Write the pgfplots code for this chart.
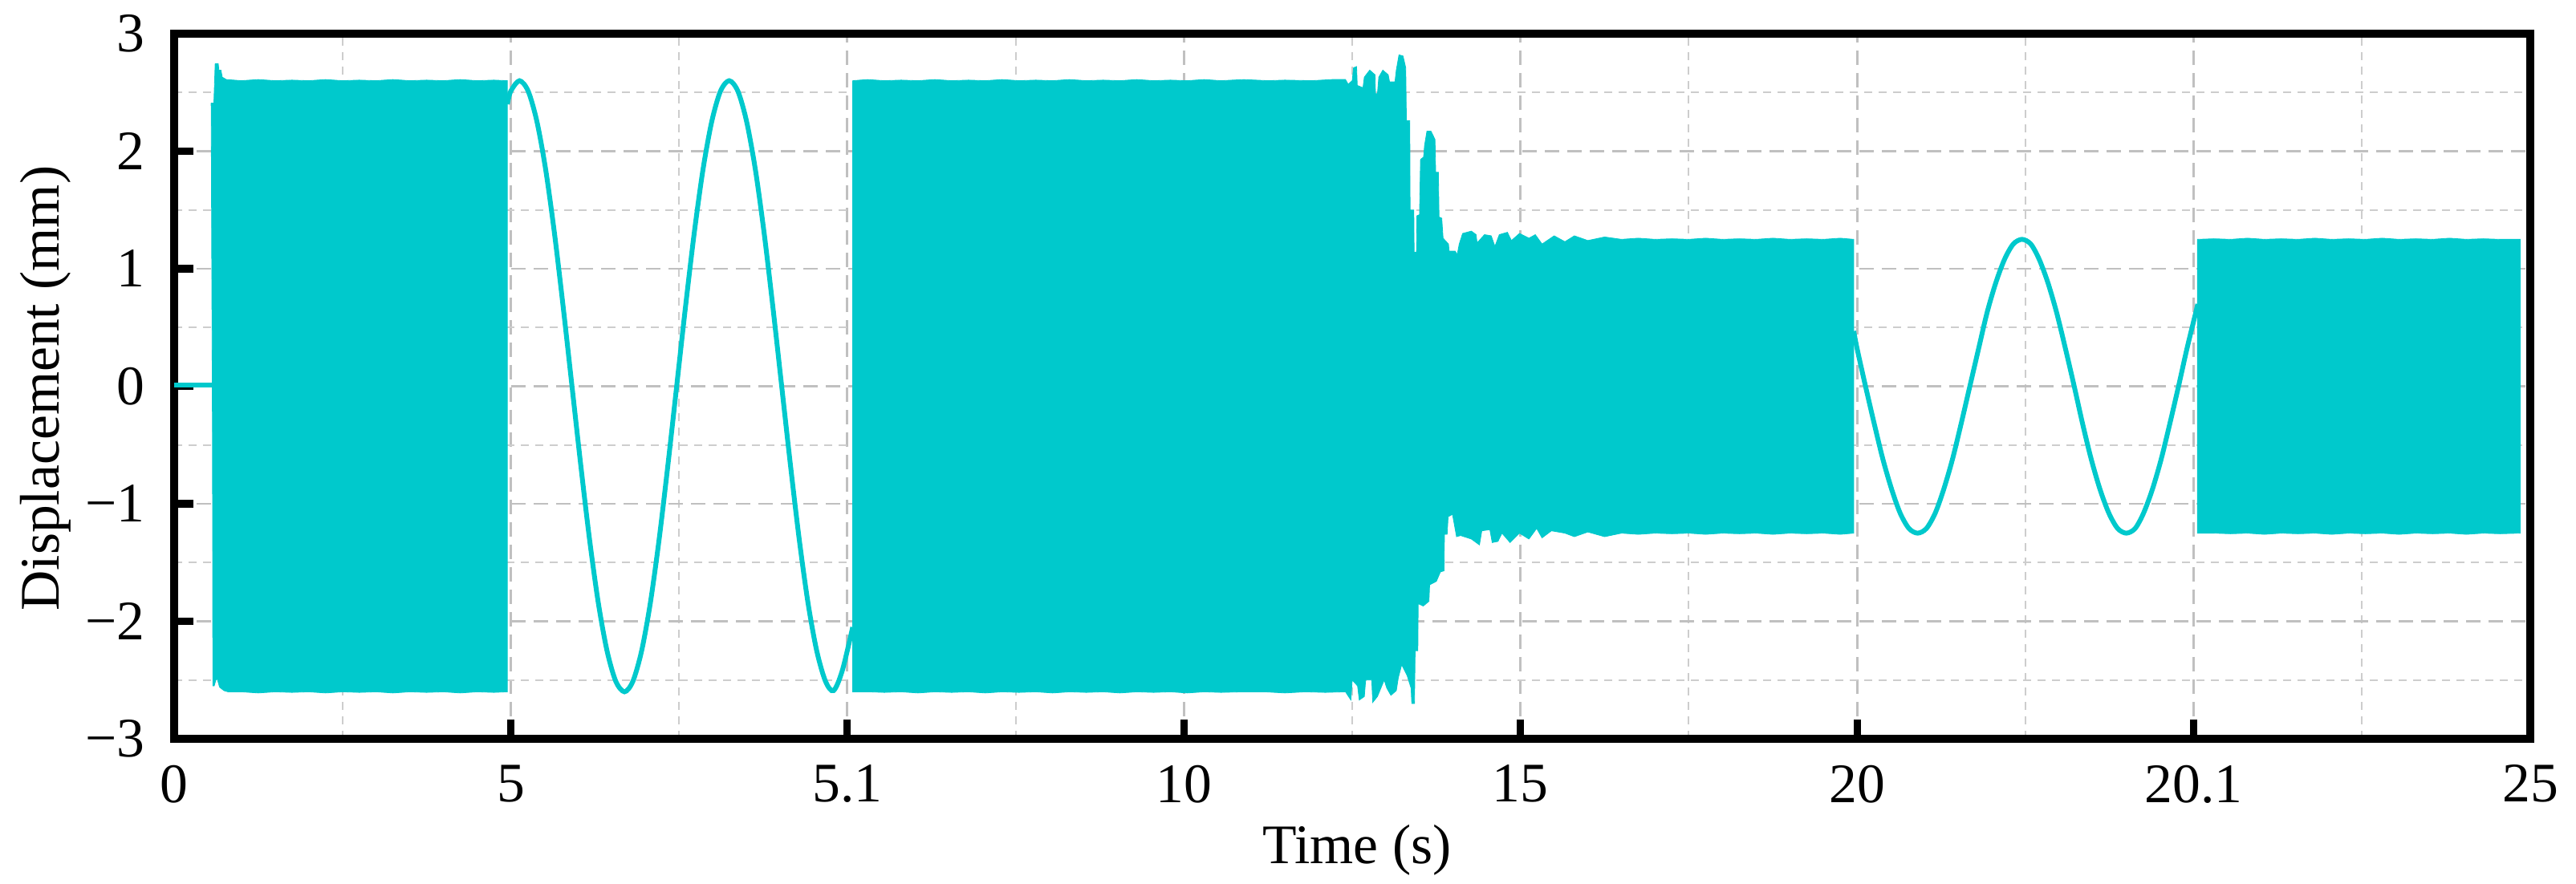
\documentclass[border=0pt]{standalone}
\usepackage{pgfplots}
\pgfplotsset{compat=1.18}
\usepackage{fontspec}
\setmainfont{Liberation Serif}
\definecolor{cy}{RGB}{0,201,204}
\definecolor{gmaj}{RGB}{192,192,192}
\definecolor{gmin}{RGB}{205,205,205}
\begin{document}
\begin{tikzpicture}
\useasboundingbox (-54.25pt,-45.25pt) rectangle (748.25pt,230.25pt);
\begin{axis}[
  scale only axis, width=734pt, height=219.75pt,
  xmin=0, xmax=7, ymin=-3, ymax=3,
  xtick={0,1,2,3,4,5,6,7},
  xticklabels={0,5,5.1,10,15,20,20.1,25},
  ytick={-3,-2,-1,0,1,2,3},
  yticklabels={−3,−2,−1,0,1,2,3},
  minor xtick={0.5,1.5,2.5,3.5,4.5,5.5,6.5},
  minor ytick={-2.5,-1.5,-0.5,0.5,1.5,2.5},
  minor tick length=0pt,
  major tick length=6pt,
  tick align=inside,
  tick pos=left,
  tick style={black,line width=2.3pt},
  axis line style={black,line width=2.4pt},
  grid=both,
  major grid style={gmaj,line width=0.7pt,dash pattern=on 4.5pt off 2.5pt},
  minor grid style={gmin,line width=0.5pt,dash pattern=on 2.5pt off 2pt},
  font=\fontsize{17.4pt}{20pt}\selectfont,
  xticklabel style={inner sep=0pt,anchor=north,yshift=-8pt},
  yticklabel style={inner sep=0pt,anchor=east,xshift=-9pt},
  xlabel={Time (s)}, ylabel={Displacement (mm)},
  every axis x label/.style={at={(axis description cs:0.502,-0.158)},anchor=center},
  every axis y label/.style={at={(axis description cs:-0.0545,0.497)},anchor=center,rotate=90},
]
% lead-in
\addplot[cy,line width=1.5pt] coordinates {(0,0.01) (0.115,0.01)};
% dense block 1 envelope
\addplot[fill=cy,draw=cy,line width=0.2pt] coordinates {
(0.110,2.41)(0.118,2.41)(0.122,2.745)(0.131,2.745)(0.133,2.69)(0.139,2.69)(0.143,2.63)(0.155,2.61)
(0.20,2.60)(0.25,2.61)(0.30,2.60)(0.35,2.605)(0.40,2.60)(0.45,2.61)(0.50,2.60)(0.55,2.605)(0.60,2.60)
(0.65,2.61)(0.70,2.60)(0.75,2.605)(0.80,2.60)(0.85,2.61)(0.90,2.60)(0.95,2.605)(0.99,2.60)
(0.99,-2.60)(0.95,-2.605)(0.90,-2.60)(0.85,-2.61)(0.80,-2.60)(0.75,-2.605)(0.70,-2.60)(0.65,-2.61)(0.60,-2.60)
(0.55,-2.605)(0.50,-2.60)(0.45,-2.61)(0.40,-2.60)(0.35,-2.605)(0.30,-2.60)(0.25,-2.61)(0.20,-2.60)
(0.160,-2.60)(0.148,-2.59)(0.135,-2.56)(0.128,-2.49)(0.124,-2.50)(0.119,-2.55)(0.115,-2.55)(0.114,-0.5)(0.110,2.41)};
% sine 1
\addplot[cy,line width=1.5pt,smooth] coordinates {
(0.99,2.40)(1.000,2.51)(1.026,2.60)(1.052,2.51)(1.078,2.25)(1.104,1.84)(1.130,1.30)(1.156,0.67)(1.182,0)
(1.208,-0.67)(1.234,-1.30)(1.260,-1.84)(1.286,-2.25)(1.312,-2.51)(1.338,-2.60)(1.363,-2.51)(1.389,-2.25)(1.415,-1.84)
(1.441,-1.30)(1.467,-0.67)(1.493,0)(1.519,0.67)(1.545,1.30)(1.571,1.84)(1.597,2.25)(1.623,2.51)(1.649,2.60)
(1.675,2.51)(1.701,2.25)(1.727,1.84)(1.753,1.30)(1.779,0.67)(1.805,0)(1.831,-0.67)(1.857,-1.30)(1.883,-1.84)
(1.909,-2.25)(1.935,-2.51)(1.959,-2.59)(1.985,-2.42)(2.016,-2.05)};
% dense blocks 2 and 3 with transition, envelope
\addplot[fill=cy,draw=cy,line width=0.2pt] coordinates {
(2.016,2.60)(2.06,2.61)(2.11,2.60)(2.16,2.605)(2.21,2.60)(2.26,2.61)(2.31,2.60)(2.36,2.605)(2.41,2.60)(2.46,2.61)
(2.51,2.60)(2.56,2.605)(2.61,2.60)(2.66,2.61)(2.71,2.60)(2.76,2.605)(2.81,2.60)(2.86,2.61)(2.91,2.60)(2.96,2.605)
(3.01,2.60)(3.06,2.61)(3.11,2.60)(3.178,2.61)(3.25,2.60)(3.30,2.605)(3.38,2.60)(3.44,2.61)(3.48,2.61)(3.488,2.57)(3.500,2.60)
(3.504,2.71)(3.513,2.72)(3.515,2.56)(3.532,2.54)(3.536,2.63)(3.552,2.69)(3.568,2.65)(3.569,2.49)(3.575,2.49)
(3.579,2.63)(3.591,2.69)(3.607,2.65)(3.611,2.59)(3.627,2.59)(3.631,2.69)(3.639,2.82)(3.651,2.81)(3.659,2.71)
(3.661,2.26)(3.671,2.26)(3.672,1.50)(3.683,1.50)(3.684,1.14)(3.691,1.14)(3.692,1.45)(3.700,1.46)(3.703,1.93)
(3.712,1.95)(3.715,2.05)(3.722,2.17)(3.734,2.17)(3.746,2.10)(3.748,1.82)(3.756,1.82)(3.758,1.44)(3.766,1.43)
(3.770,1.26)(3.786,1.21)(3.788,1.15)(3.806,1.15)(3.812,1.12)(3.818,1.21)(3.828,1.30)(3.854,1.32)(3.868,1.29)
(3.871,1.22)(3.893,1.29)(3.913,1.28)(3.924,1.19)(3.937,1.29)(3.961,1.31)(3.973,1.24)(3.997,1.30)(4.025,1.26)
(4.044,1.29)(4.064,1.21)(4.10,1.28)(4.132,1.23)(4.16,1.28)(4.20,1.24)(4.25,1.27)(4.30,1.25)(4.35,1.26)(4.40,1.25)(4.45,1.255)
(4.50,1.25)(4.55,1.26)(4.60,1.25)(4.65,1.255)(4.70,1.25)(4.75,1.26)(4.80,1.25)(4.85,1.255)(4.90,1.25)(4.95,1.26)(4.99,1.25)
(4.99,-1.25)(4.95,-1.26)(4.90,-1.25)(4.85,-1.255)(4.80,-1.25)(4.75,-1.26)(4.70,-1.25)(4.65,-1.255)(4.60,-1.25)(4.55,-1.26)
(4.50,-1.25)(4.45,-1.255)(4.40,-1.25)(4.35,-1.26)(4.30,-1.25)(4.25,-1.28)(4.20,-1.24)(4.16,-1.28)
(4.132,-1.25)(4.092,-1.23)(4.064,-1.29)(4.048,-1.21)(4.025,-1.30)(3.997,-1.25)(3.969,-1.33)(3.945,-1.25)(3.933,-1.32)
(3.916,-1.33)(3.909,-1.22)(3.885,-1.23)(3.878,-1.35)(3.854,-1.30)(3.822,-1.27)(3.810,-1.28)(3.798,-1.09)(3.785,-1.11)
(3.782,-1.26)(3.774,-1.26)(3.773,-1.57)(3.762,-1.58)(3.750,-1.66)(3.730,-1.69)(3.728,-1.83)(3.711,-1.87)(3.696,-1.85)
(3.695,-2.25)(3.687,-2.25)(3.685,-2.70)(3.677,-2.70)(3.675,-2.57)(3.663,-2.46)(3.647,-2.37)(3.637,-2.48)(3.631,-2.59)
(3.615,-2.63)(3.603,-2.57)(3.595,-2.50)(3.575,-2.64)(3.561,-2.69)(3.558,-2.50)(3.540,-2.50)(3.536,-2.64)(3.521,-2.67)
(3.516,-2.55)(3.50,-2.50)(3.496,-2.67)(3.48,-2.60)(3.42,-2.605)(3.36,-2.60)(3.30,-2.61)(3.24,-2.60)(3.178,-2.60)(3.11,-2.605)(3.06,-2.60)(3.01,-2.61)
(2.96,-2.60)(2.91,-2.605)(2.86,-2.60)(2.81,-2.61)(2.76,-2.60)(2.71,-2.605)(2.66,-2.60)(2.61,-2.61)(2.56,-2.60)(2.51,-2.605)
(2.46,-2.60)(2.41,-2.61)(2.36,-2.60)(2.31,-2.605)(2.26,-2.60)(2.21,-2.61)(2.16,-2.60)(2.11,-2.605)(2.06,-2.60)(2.016,-2.60)(2.016,2.60)};
% sine 2
\addplot[cy,line width=1.5pt,smooth] coordinates {
(4.99,0.47)(5.000,0.32)(5.025,0)(5.051,-0.32)(5.077,-0.625)(5.103,-0.88)(5.128,-1.08)(5.154,-1.21)(5.180,-1.25)
(5.206,-1.21)(5.232,-1.08)(5.257,-0.88)(5.283,-0.625)(5.309,-0.32)(5.335,0)(5.361,0.32)(5.386,0.625)(5.412,0.88)
(5.438,1.08)(5.464,1.21)(5.490,1.25)(5.516,1.21)(5.541,1.08)(5.567,0.88)(5.593,0.625)(5.619,0.32)(5.645,0)
(5.670,-0.32)(5.696,-0.625)(5.722,-0.88)(5.748,-1.08)(5.774,-1.21)(5.800,-1.25)(5.826,-1.21)(5.851,-1.08)(5.877,-0.88)
(5.903,-0.625)(5.929,-0.32)(5.955,0)(5.980,0.32)(6.006,0.625)(6.012,0.70)};
% dense block 4
\addplot[fill=cy,draw=cy,line width=0.2pt] coordinates {
(6.011,1.25)(6.06,1.255)(6.11,1.25)(6.16,1.26)(6.21,1.25)(6.26,1.255)(6.31,1.25)(6.36,1.26)(6.41,1.25)(6.46,1.255)
(6.51,1.25)(6.56,1.26)(6.61,1.25)(6.66,1.255)(6.71,1.25)(6.76,1.26)(6.81,1.25)(6.86,1.255)(6.91,1.25)(6.97,1.25)
(6.97,-1.25)(6.91,-1.255)(6.86,-1.25)(6.81,-1.26)(6.76,-1.25)(6.71,-1.255)(6.66,-1.25)(6.61,-1.26)(6.56,-1.25)(6.51,-1.255)
(6.46,-1.25)(6.41,-1.26)(6.36,-1.25)(6.31,-1.255)(6.26,-1.25)(6.21,-1.26)(6.16,-1.25)(6.11,-1.255)(6.06,-1.25)(6.011,-1.25)(6.011,1.25)};
\end{axis}
\end{tikzpicture}
\end{document}
